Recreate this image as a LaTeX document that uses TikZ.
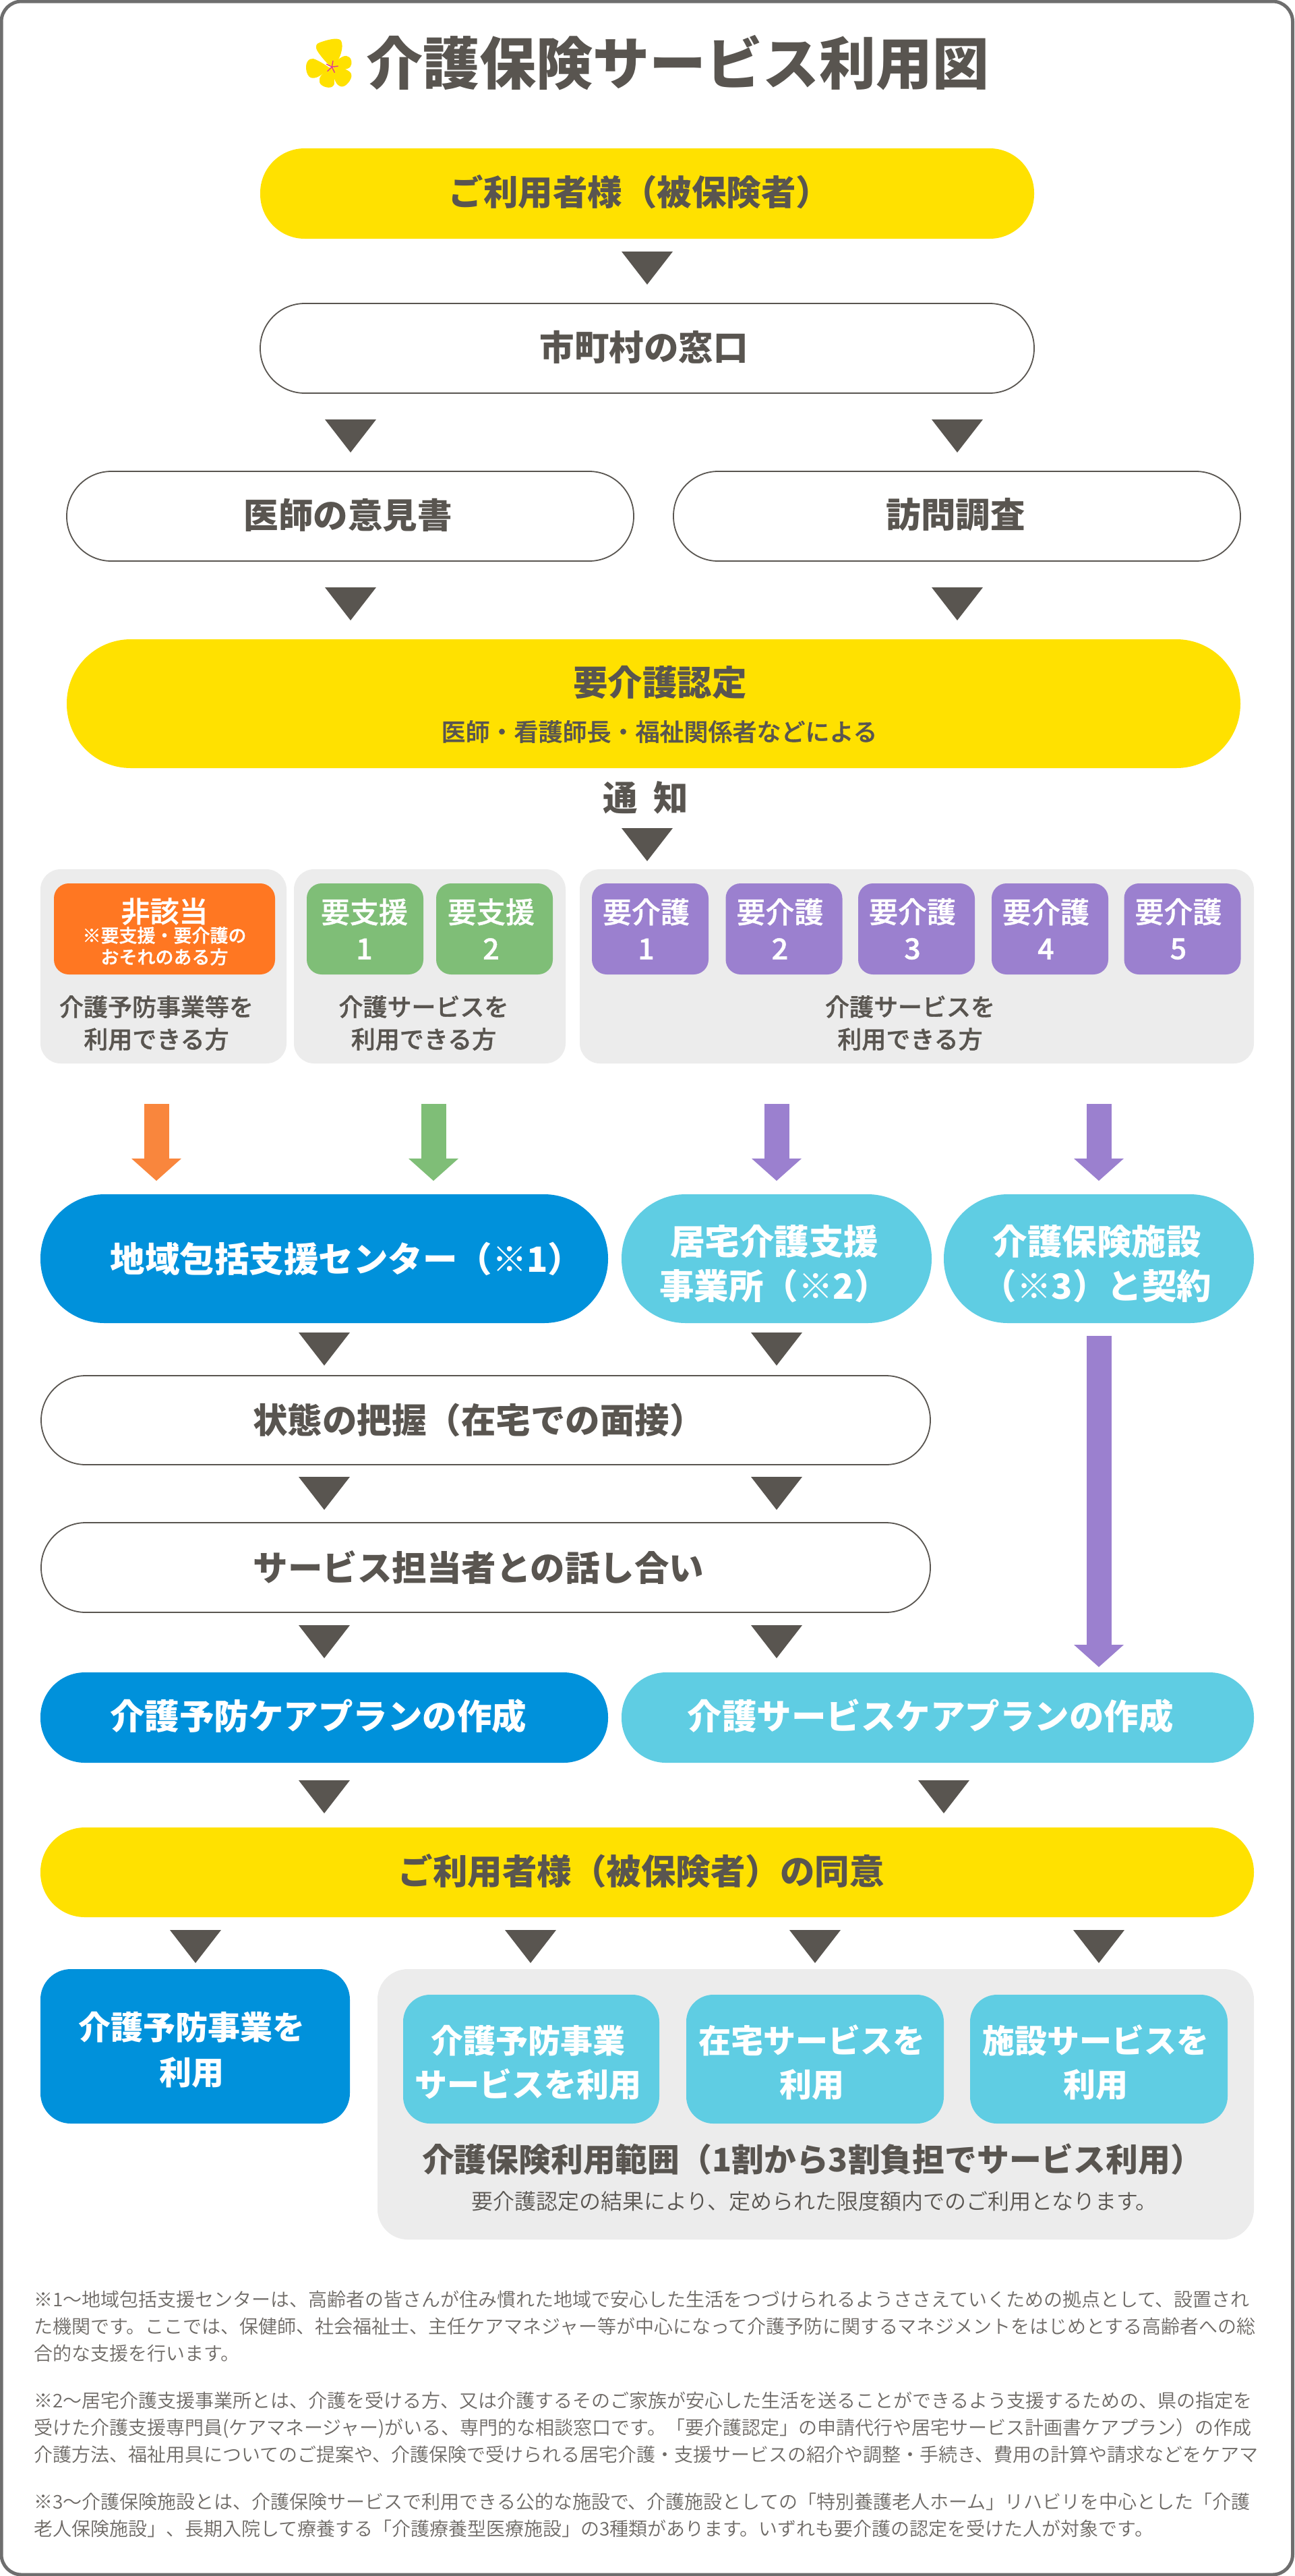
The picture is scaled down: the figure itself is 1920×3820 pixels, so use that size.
\documentclass[tikz,border=0pt]{standalone}
\usepackage{fontspec}
\setmainfont{Noto Sans CJK JP}
\newfontfamily\capfont[FakeBold=1]{Noto Sans CJK JP Medium}
\newfontfamily\lightfont{Noto Sans CJK JP DemiLight}
\usepackage{xcolor}
\usetikzlibrary{arrows.meta,positioning}

\definecolor{inkgray}{HTML}{595550}
\definecolor{notegray}{HTML}{6E6A66}
\definecolor{framegray}{HTML}{6E6E6E}
\definecolor{panelgray}{HTML}{ECECEC}
\definecolor{mainyellow}{HTML}{FFE100}
\definecolor{deepblue}{HTML}{0091DB}
\definecolor{lightblue}{HTML}{5FCDE3}
\definecolor{kindgreen}{HTML}{7FBE77}
\definecolor{carepurple}{HTML}{9B80CF}
\definecolor{boxorange}{HTML}{FF7722}
\definecolor{droporange}{HTML}{F9863D}
\definecolor{stamenpink}{HTML}{E0398F}

\newcommand{\fsz}[2]{\fontsize{#1}{#2}\selectfont}

\begin{document}
\begin{tikzpicture}[
    x=1pt, y=-1pt,
    box/.style={rectangle, inner sep=0pt, outer sep=0pt},
    whitepill/.style={box, draw=inkgray, line width=1.8pt, fill=white, rounded corners=66pt},
    yellowpill/.style={box, fill=mainyellow, rounded corners=66pt},
    bluepill/.style={box, fill=deepblue, rounded corners=66pt},
    cyanpill/.style={box, fill=lightblue, rounded corners=66pt},
    panel/.style={box, fill=panelgray, rounded corners=30pt},
    levelbox/.style={box, rounded corners=22pt, minimum width=173pt, minimum height=135pt},
    flowtext/.style={inner sep=0pt, text=inkgray, font=\fsz{51.5}{66}\bfseries, align=center},
    whitetext/.style={inner sep=0pt, text=white, font=\fsz{51.5}{66}\bfseries, align=center},
    leveltext/.style={inner sep=0pt, text=white, font=\fsz{43}{54}\capfont, align=center},
    captiontext/.style={inner sep=0pt, text=inkgray, font=\fsz{36}{48}\capfont, align=center},
    notetext/.style={inner sep=0pt, anchor=north west, text=notegray, font=\fsz{28}{40}\lightfont, align=left},
    flowtip/.style={line width=0pt, draw=inkgray, -{Triangle[width=76pt,length=49pt,line width=0pt]}},
    blockarrow/.style={line width=37pt, -{Triangle[width=74pt,length=33pt,line width=0pt]}}
]
    \useasboundingbox (0,0) rectangle (1920,3820);
    \fill[white] (0,0) rectangle (1920,3820);
    \draw[framegray, line width=5pt, rounded corners=30pt] (2,2) rectangle (1917.5,3818);

    % Title
    \begin{scope}[shift={(420,20)}, x=0.3333pt, y=-0.3333pt]
        \fill[mainyellow] plot[smooth cycle, tension=0.7] coordinates {(217,238) (165,185) (147,145) (175,125) (240,113) (262,135) (255,185) (235,218)};
        \fill[mainyellow] plot[smooth cycle, tension=0.7] coordinates {(225,225) (265,192) (295,195) (304,225) (285,246) (235,250)};
        \fill[mainyellow] plot[smooth cycle, tension=0.7] coordinates {(225,240) (285,252) (304,280) (280,318) (250,322) (228,290)};
        \fill[mainyellow] plot[smooth cycle, tension=0.7] coordinates {(215,240) (228,300) (218,326) (185,326) (162,305) (172,272)};
        \fill[mainyellow] plot[smooth cycle, tension=0.7] coordinates {(215,250) (155,210) (120,203) (102,235) (115,280) (150,284) (190,258)};
        \foreach \a in {-80,-8,64,136,208}
            \draw[stamenpink, line width=1.4pt, line cap=round] (217,238) -- +(\a:27);
    \end{scope}
    \node[inner sep=0pt, text=inkgray, font=\fsz{84}{90}\bfseries] (title) at (1005,93) {介護保険サービス利用図};

    % Application
    \node[yellowpill, minimum width=1148pt, minimum height=134pt] (user) at (960,287) {};
    \node[flowtext] (usertext) at ([xshift=-11pt,yshift=2pt]user.center) {ご利用者様（被保険者）};
    \node[whitepill, minimum width=1148pt, minimum height=133pt, below=96pt of user] (counter) {};
    \node[flowtext] (countertext) at ([xshift=-5pt,yshift=2pt]counter.center) {市町村の窓口};
    \node[whitepill, minimum width=841pt, minimum height=133pt] (opinion) at (519.5,765.5) {};
    \node[flowtext] (opiniontext) at ([xshift=-3.5pt,yshift=2pt]opinion.center) {医師の意見書};
    \node[whitepill, minimum width=841pt, minimum height=133pt] (survey) at (1419.5,765.5) {};
    \node[flowtext] (surveytext) at ([xshift=-2pt,yshift=2pt]survey.center) {訪問調査};
    \node[yellowpill, rounded corners=95pt, minimum width=1741pt, minimum height=191pt] (cert) at (969.5,1043.5) {};
    \node[flowtext] (certtext) at ([xshift=9.5pt,yshift=31.5pt]cert.center) {要介護認定};
    \node[captiontext] (certnote) at ([xshift=8.5pt,yshift=-41.5pt]cert.center) {医師・看護師長・福祉関係者などによる};
    \node[flowtext] (notice) at (958,1183) {通\ \ 知};

    \draw[flowtip] ([yshift=-19pt]user.south) -- ([yshift=28pt]counter.north);
    \foreach \x in {520,1420} {
        \draw[flowtip] ([yshift=-39pt]\x,0 |- counter.south) -- ([yshift=28pt]\x,0 |- opinion.north);
        \draw[flowtip] ([yshift=-39pt]\x,0 |- opinion.south) -- ([yshift=28pt]\x,0 |- cert.north);
    }
    \coordinate (noticetip) at (960,1228);
    \coordinate (paneltip) at (960,1277);
    \draw[flowtip] (noticetip) -- (paneltip);

    % Result panels
    \node[panel, minimum width=365pt, minimum height=288pt] (panelnone) at (242.5,1433) {};
    \node[panel, minimum width=403pt, minimum height=288pt] (panelsupport) at (637.5,1433) {};
    \node[panel, minimum width=1000pt, minimum height=288pt] (panelcare) at (1360,1433) {};

    \node[levelbox, fill=boxorange, minimum width=328pt] (none) at (244,1377.5) {};
    \node[leveltext] (nonetext) at ([yshift=26pt]none.center) {非該当};
    \node[leveltext, font=\fsz{27}{30}\capfont] (nonenote) at ([yshift=-9.5pt]none.center) {※要支援・要介護の};
    \node[leveltext, font=\fsz{27}{30}\capfont] (nonerisk) at ([yshift=-41.5pt]none.center) {おそれのある方};

    \foreach \n/\x/\dx in {1/541.5/-1,2/733.5/-5} {
        \node[levelbox, fill=kindgreen] (support\n) at (\x,1377.5) {};
        \node[leveltext] (supporttext\n) at ([xshift=\dx pt]support\n.center) {要支援\\\n};
    }
    \foreach \n/\x in {1/964.5,2/1163,3/1359.5,4/1557.5,5/1754} {
        \node[levelbox, fill=carepurple] (care\n) at (\x,1377.5) {};
        \node[leveltext] (caretext\n) at ([xshift=-6pt]care\n.center) {要介護\\\n};
    }
    \node[captiontext] (nonecaption) at ([xshift=-10.5pt,yshift=-84pt]panelnone.center) {介護予防事業等を\\利用できる方};
    \node[captiontext] (supportcaption) at ([xshift=-9pt,yshift=-84pt]panelsupport.center) {介護サービスを\\利用できる方};
    \node[captiontext] (carecaption) at ([xshift=-10pt,yshift=-84pt]panelcare.center) {介護サービスを\\利用できる方};

    % Service offices
    \node[bluepill, rounded corners=95pt, minimum width=842pt, minimum height=191pt] (center) at (481,1866.5) {};
    \node[whitetext] (centertext) at ([xshift=33pt]center.center) {地域包括支援センター（※1）};
    \node[cyanpill, rounded corners=95pt, minimum width=460pt, minimum height=191pt] (home) at (1152,1866.5) {};
    \node[whitetext] (hometext) at ([xshift=-3.5pt,yshift=-7.5pt]home.center) {居宅介護支援\\事業所（※2）};
    \node[cyanpill, rounded corners=95pt, minimum width=460pt, minimum height=191pt] (facility) at (1630,1866.5) {};
    \node[whitetext] (facilitytext) at ([xshift=-3pt,yshift=-7.5pt]facility.center) {介護保険施設\\（※3）と契約};

    \foreach \n/\x/\col/\target in {1/232/droporange/center,2/643/kindgreen/center,3/1152/carepurple/home,4/1630/carepurple/facility} {
        \coordinate (drop\n) at (\x,1637);
        \draw[blockarrow, draw=\col] (drop\n) -- ([yshift=20pt]drop\n |- \target.north);
    }

    % Care plan steps
    \node[whitepill, minimum width=1319pt, minimum height=132pt] (state) at (720.5,2106) {};
    \node[flowtext] (statetext) at ([xshift=-10.5pt]state.center) {状態の把握（在宅での面接）};
    \node[whitepill, minimum width=1319pt, minimum height=133pt, below=86pt of state] (talk) {};
    \node[flowtext] (talktext) at ([xshift=-10.5pt]talk.center) {サービス担当者との話し合い};
    \node[bluepill, minimum width=842pt, minimum height=134pt] (preplan) at (481,2547) {};
    \node[whitetext] (preplantext) at ([xshift=-9pt,yshift=2pt]preplan.center) {介護予防ケアプランの作成};
    \node[cyanpill, minimum width=938pt, minimum height=134pt] (careplan) at (1391,2547) {};
    \node[whitetext] (careplantext) at ([xshift=-11pt,yshift=2pt]careplan.center) {介護サービスケアプランの作成};
    \node[yellowpill, minimum width=1800pt, minimum height=133pt] (agree) at (960,2776.5) {};
    \node[flowtext] (agreetext) at ([xshift=-9pt,yshift=1.5pt]agree.center) {ご利用者様（被保険者）の同意};

    \foreach \x in {481,1152} {
        \draw[flowtip] ([yshift=-14pt]\x,0 |- center.south) -- ([yshift=15pt]\x,0 |- state.north);
        \draw[flowtip] ([yshift=-19pt]\x,0 |- state.south) -- ([yshift=19pt]\x,0 |- talk.north);
        \draw[flowtip] ([yshift=-20pt]\x,0 |- talk.south) -- ([yshift=21pt]\x,0 |- preplan.north);
    }
    \draw[blockarrow, draw=carepurple] ([yshift=-19pt]facility.south) -- ([yshift=8pt]1630,0 |- careplan.north);
    \foreach \x in {481,1400}
        \draw[flowtip] ([yshift=-28pt]\x,0 |- preplan.south) -- ([yshift=21pt]\x,0 |- agree.north);

    % Use of services
    \node[bluepill, rounded corners=45pt, minimum width=459pt, minimum height=229pt] (prevent) at (289.5,3034.5) {};
    \node[whitetext, font=\fsz{48}{67}\bfseries] (preventtext) at ([xshift=-5.5pt,yshift=-5pt]prevent.center) {介護予防事業を\\利用};
    \node[panel, rounded corners=45pt, minimum width=1300pt, minimum height=401pt] (scopepanel) at (1210,3120.5) {};
    \foreach \n/\x/\w/\label in {1/788/380/{介護予防事業\\サービスを利用},2/1209/382/{在宅サービスを\\利用},3/1630/382/{施設サービスを\\利用}} {
        \node[cyanpill, rounded corners=40pt, minimum width=\w pt, minimum height=191pt] (use\n) at (\x,3053.5) {};
        \node[whitetext, font=\fsz{48}{65}\bfseries] (usetext\n) at ([xshift=-5pt,yshift=-5pt]use\n.center) {\label};
    }
    \node[flowtext, font=\fsz{47.8}{60}\bfseries] (scopetext) at (1205,3202) {介護保険利用範囲（1割から3割負担でサービス利用）};
    \node[inner sep=0pt, text=inkgray, font=\fsz{32}{40}\lightfont] (scopenote) at (1208,3264) {要介護認定の結果により、定められた限度額内でのご利用となります。};

    \foreach \x/\to in {290/prevent,787/scopepanel,1209/scopepanel,1630/scopepanel}
        \draw[flowtip] ([yshift=-20pt]\x,0 |- agree.south) -- ([yshift=9pt]\x,0 |- \to.north);

    % Notes
    \node[notetext] (note1) at (50,3397) {※1～地域包括支援センターは、高齢者の皆さんが住み慣れた地域で安心した生活をつづけられるようささえていくための拠点として、設置され\\た機関です。ここでは、保健師、社会福祉士、主任ケアマネジャー等が中心になって介護予防に関するマネジメントをはじめとする高齢者への総\\合的な支援を行います。};
    \node[notetext] (note2) at (50,3547) {※2～居宅介護支援事業所とは、介護を受ける方、又は介護するそのご家族が安心した生活を送ることができるよう支援するための、県の指定を\\受けた介護支援専門員(ケアマネージャー)がいる、専門的な相談窓口です。「要介護認定」の申請代行や居宅サービス計画書ケアプラン）の作成\\介護方法、福祉用具についてのご提案や、介護保険で受けられる居宅介護・支援サービスの紹介や調整・手続き、費用の計算や請求などをケアマ};
    \node[notetext] (note3) at (50,3697) {※3～介護保険施設とは、介護保険サービスで利用できる公的な施設で、介護施設としての「特別養護老人ホーム」リハビリを中心とした「介護\\老人保険施設」、長期入院して療養する「介護療養型医療施設」の3種類があります。いずれも要介護の認定を受けた人が対象です。};
\end{tikzpicture}
\end{document}
